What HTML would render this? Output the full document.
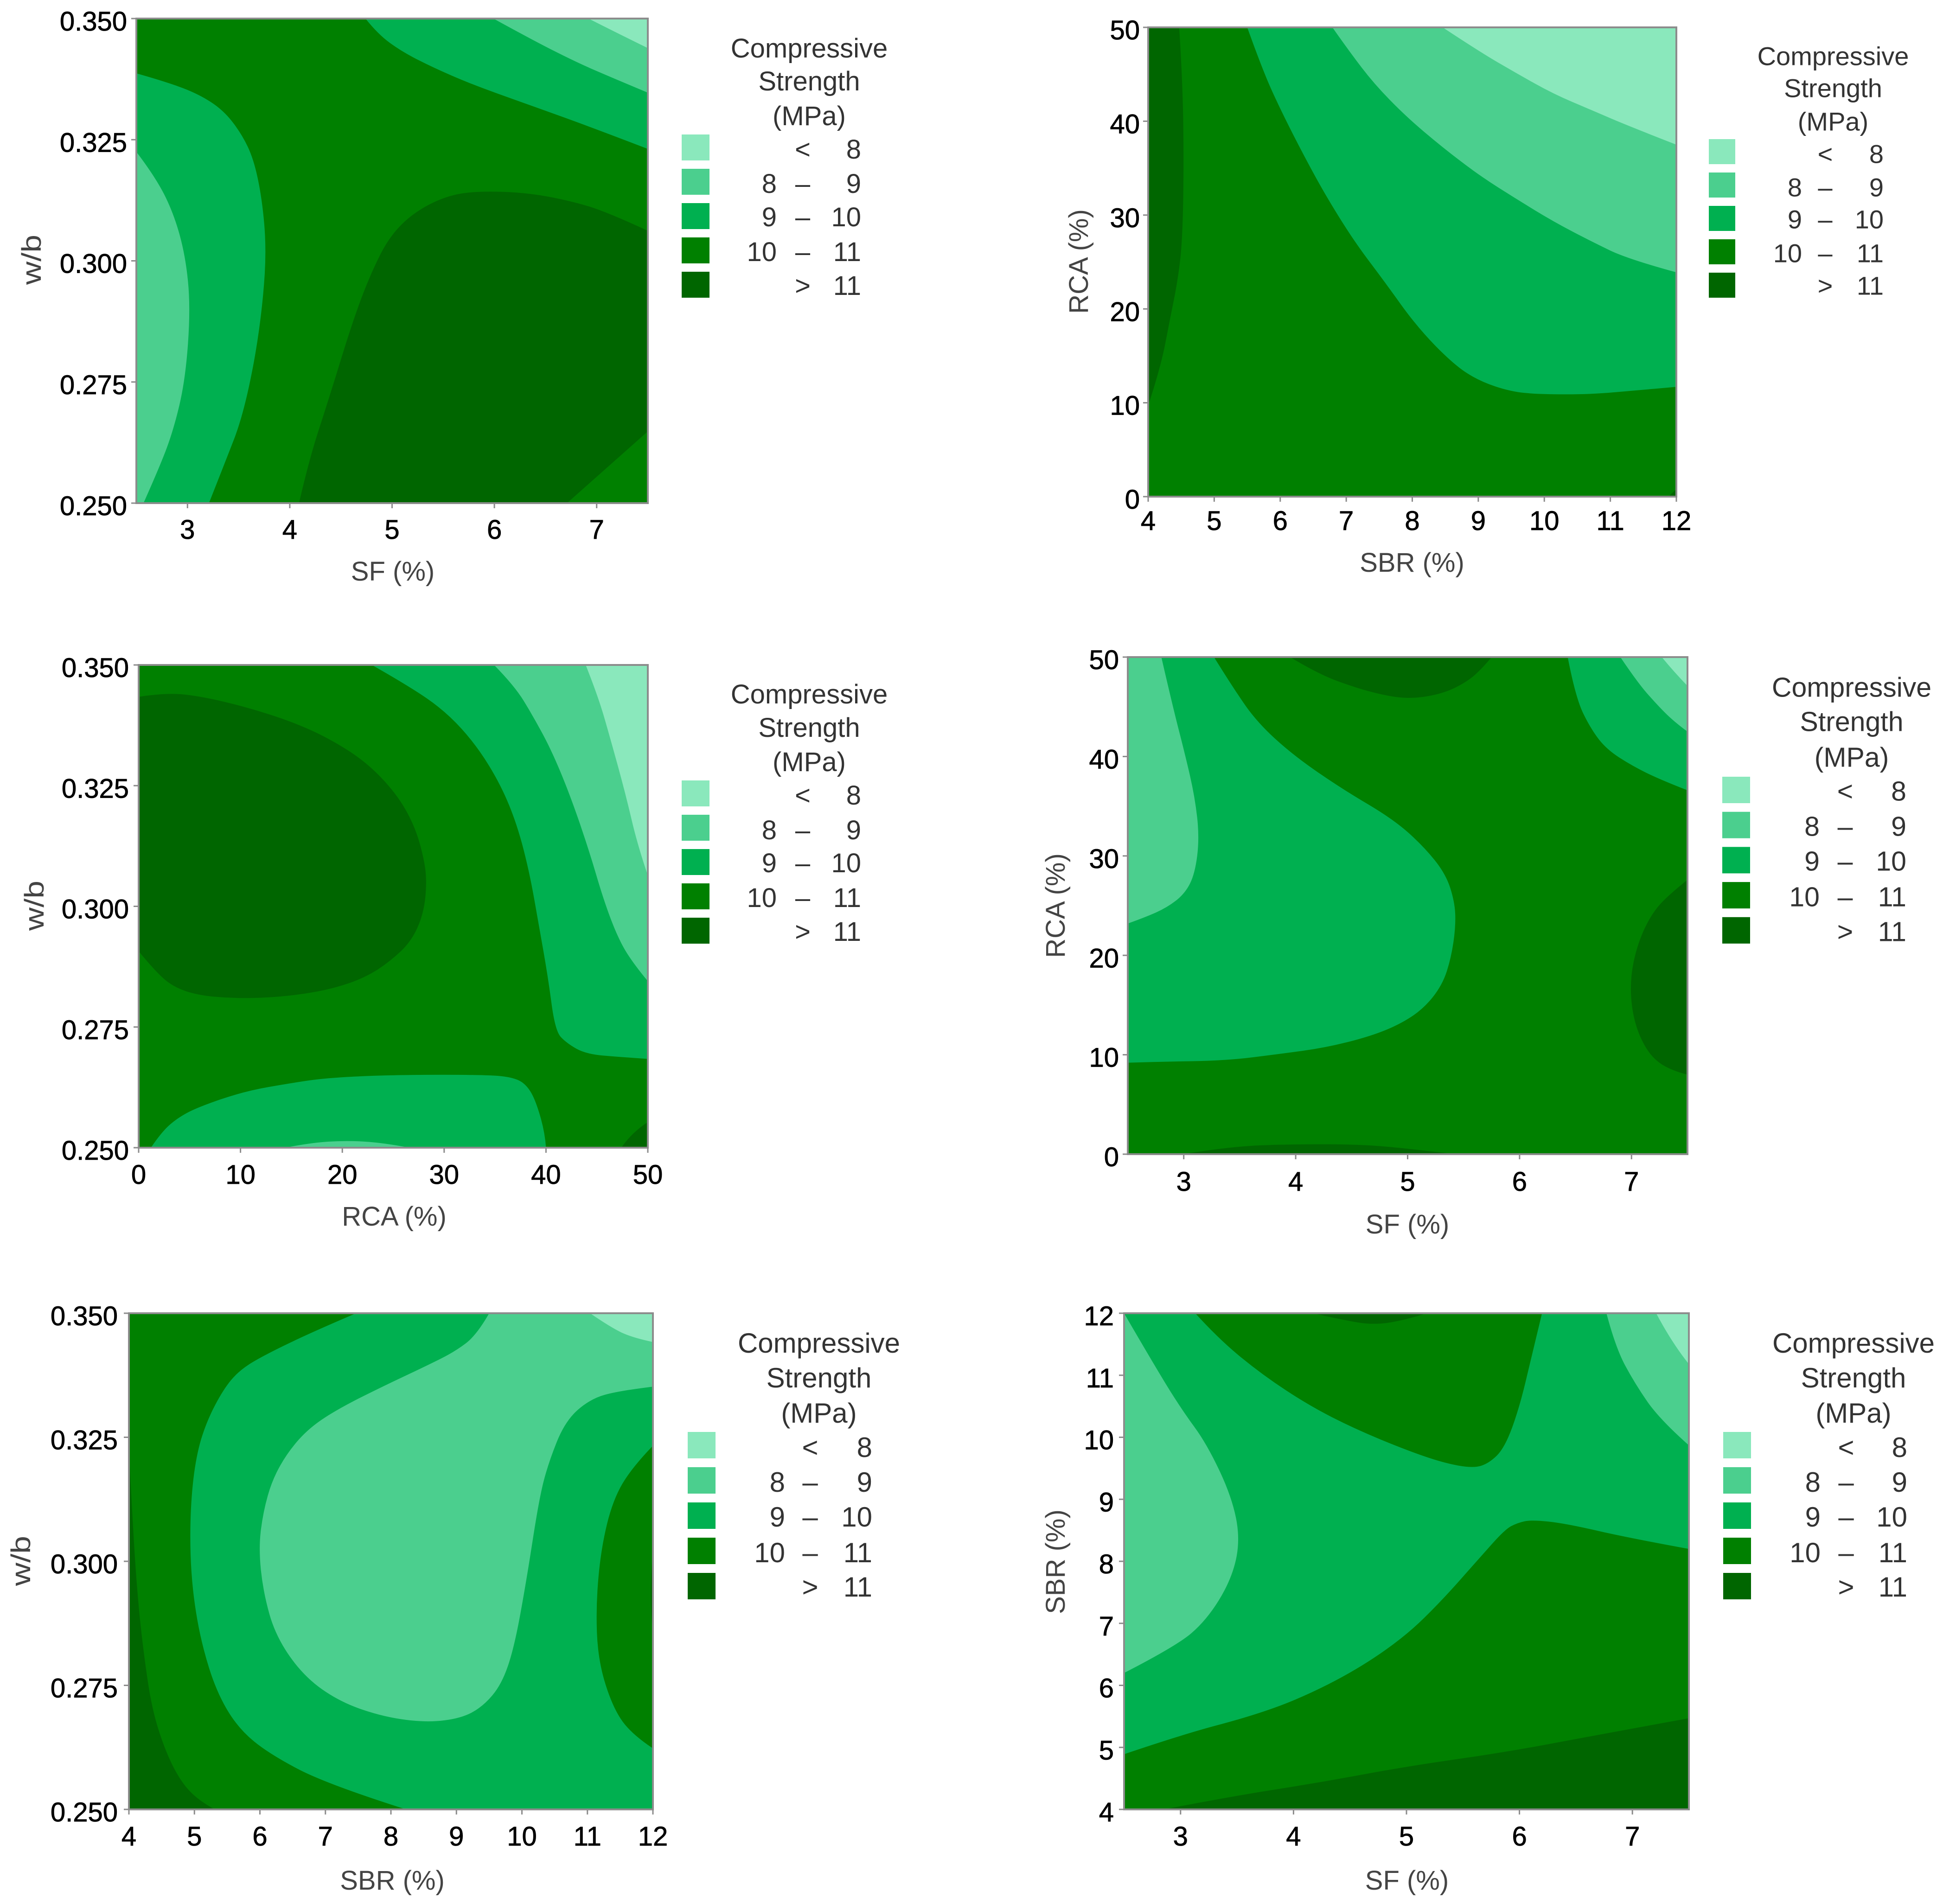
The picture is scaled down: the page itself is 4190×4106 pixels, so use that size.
<!DOCTYPE html>
<html lang="en">
<head>
<meta charset="utf-8">
<title>Compressive strength contour plots</title>
<style>
html,body{margin:0;padding:0;background:#fff;}
svg{display:block;}
text{font-family:"Liberation Sans",sans-serif;}
</style>
</head>
<body>
<svg id="figure" xmlns="http://www.w3.org/2000/svg" width="4190" height="4106" viewBox="0 0 4190 4106">
<rect width="4190" height="4106" fill="#ffffff"/>
</svg>
<script>
// Shared legend data
const bandColors = ['#8ae8bc', '#4bcf8e', '#00b050', '#008000', '#006600'];
const legendLow = ['', '8', '9', '10', ''];
const legendSep = ['<', '–', '–', '–', '>'];
const legendHigh = ['8', '9', '10', '11', '11'];
const legendTitle = ['Compressive', 'Strength', '(MPa)'];

// Axis ticks
const sfTicks = [3, 4, 5, 6, 7];
const sbrTicks = [4, 5, 6, 7, 8, 9, 10, 11, 12];
const rcaTicks = [0, 10, 20, 30, 40, 50];
const wbTicks = [0.25, 0.275, 0.3, 0.325, 0.35];
const wbTickLabels = ['0.250', '0.275', '0.300', '0.325', '0.350'];

// Chart 1: SF vs w/b contour boundaries, in data units [SF, w/b]
const c1Over11 = [[4.09,.25],[4.19,.2591],[4.38,.2714],[4.62,.2879],[4.80,.2978],[4.98,.3052],[5.22,.3101],[5.53,.3134],[5.83,.3144],[6.31,.3141],[6.74,.3124],[7.10,.3101],[7.5,.3062],[7.5,.2648],[6.71,.25]];
const c1LeftB9 = [[2.5,.3387],[2.80,.3369],[3.11,.3344],[3.35,.3311],[3.53,.3262],[3.65,.3208],[3.73,.3126],[3.77,.3027],[3.74,.2920],[3.66,.2797],[3.53,.2673],[3.38,.2591],[3.21,.25],[2.5,.25]];
const c1LeftB8 = [[2.5,.3225],[2.68,.3175],[2.86,.3101],[2.98,.3011],[3.03,.2904],[2.98,.2755],[2.86,.2648],[2.71,.2566],[2.57,.25],[2.5,.25]];
const c1TopB9 = [[4.74,.35],[4.86,.3468],[5.10,.3431],[5.41,.3398],[5.77,.3365],[6.31,.3324],[6.92,.3278],[7.5,.3231],[7.5,.35]];
const c1TopB8 = [[5.99,.35],[6.37,.3456],[6.80,.3410],[7.16,.3377],[7.5,.3347],[7.5,.35]];
const c1Under8 = [[6.92,.35],[7.22,.3468],[7.5,.3439],[7.5,.35]];

// Chart 2: SBR vs RCA
const c2Over11 = [[4,50],[4.47,50],[4.52,44.4],[4.54,35.9],[4.52,27.4],[4.45,23.1],[4.33,18.9],[4.19,13.8],[4,9.7]];
const c2Corner = [[11.88,0],[12,0.8],[12,0]];
const c2B9 = [[5.50,50],[5.74,45.3],[6.02,41.0],[6.39,35.9],[6.72,31.7],[7.14,27.0],[7.56,23.1],[8.08,18.0],[8.64,14.0],[9.02,12.3],[9.49,11.2],[9.91,10.9],[10.71,10.9],[11.36,11.3],[12,11.7],[12,50]];
const c2B8 = [[6.79,50],[7.05,47.4],[7.42,44.0],[7.89,40.6],[8.46,37.2],[9.02,34.2],[9.58,31.7],[10.14,29.3],[10.71,27.2],[11.27,25.3],[12,23.9],[12,50]];
const c2Under8 = [[8.46,50],[9.02,47.4],[9.58,45.1],[10.14,42.9],[10.71,41.2],[11.27,39.5],[12,37.5],[12,50]];

// Chart 3: RCA vs w/b
const c3Over11 = [[0,.3434],[2.8,.3443],[6.4,.3434],[10.7,.3412],[15.0,.3383],[18.6,.3349],[22.3,.3300],[25.3,.3234],[27.1,.3167],[28.0,.3101],[28.3,.3052],[28.0,.2986],[26.8,.2928],[24.7,.2886],[22.3,.2853],[19.2,.2830],[15.6,.2816],[11.9,.2810],[8.9,.2810],[5.8,.2816],[3.4,.2833],[1.6,.2866],[0,.2907]];
const c3TopB9 = [[22.9,.35],[26.5,.3457],[30.2,.3403],[33.2,.3333],[35.6,.3250],[37.2,.3167],[38.4,.3068],[39.3,.2961],[40.2,.2853],[40.9,.2742],[42.0,.2717],[43.9,.2694],[47.2,.2688],[50,.2684],[50,.35]];
const c3TopB8 = [[34.9,.35],[36.9,.3457],[38.7,.3395],[40.5,.3325],[42.3,.3234],[44.2,.3118],[45.7,.3010],[47.2,.2928],[48.7,.2878],[50,.2845],[50,.35]];
const c3Under8 = [[43.9,.35],[45.1,.3436],[46.3,.3349],[47.8,.3234],[49.0,.3126],[50,.3064],[50,.35]];
const c3LowB9 = [[1.2,.25],[2.2,.2531],[3.7,.2560],[5.8,.2584],[10.4,.2617],[15.0,.2634],[18.6,.2645],[25.3,.2651],[34.4,.2651],[36.9,.2645],[38.1,.2630],[39.0,.2597],[39.9,.2531],[40,.25]];
const c3LowB8 = [[14.4,.25],[16.8,.2510],[20.4,.2515],[24.1,.2510],[26.6,.25]];
const c3Corner = [[47.4,.25],[48.4,.2531],[50,.2553],[50,.25]];

// Chart 4: SF vs RCA
const c4LeftB9 = [[2.5,50],[3.27,50],[3.43,47.1],[3.65,43.5],[3.98,40.1],[4.42,36.7],[4.87,33.7],[5.14,31.0],[5.34,28.2],[5.42,25.4],[5.43,23.0],[5.39,19.8],[5.31,17.0],[5.14,14.6],[4.92,13.0],[4.65,11.8],[4.26,10.7],[3.87,10.1],[3.37,9.4],[2.77,9.3],[2.5,9.2]];
const c4LeftB8 = [[2.5,50],[2.80,50],[2.90,45.1],[3.01,40.3],[3.10,35.9],[3.14,31.8],[3.10,28.2],[3.01,26.2],[2.85,24.8],[2.65,23.8],[2.5,23.2]];
const c4TopOver11 = [[3.95,50],[4.20,48.3],[4.54,46.9],[4.81,46.1],[5.03,45.8],[5.31,46.3],[5.53,47.5],[5.67,48.9],[5.75,50]];
const c4TopB9 = [[6.43,50],[6.50,45.9],[6.64,42.7],[6.78,40.7],[7.00,39.1],[7.25,37.7],[7.5,36.6],[7.5,50]];
const c4TopB8 = [[6.90,50],[7.05,47.5],[7.22,45.3],[7.38,43.5],[7.5,42.5],[7.5,50]];
const c4Under8 = [[7.27,50],[7.38,48.5],[7.5,47.1],[7.5,50]];
const c4RightOver11 = [[7.5,27.6],[7.30,25.8],[7.16,23.8],[7.05,21.0],[6.99,17.8],[7.00,14.6],[7.07,11.8],[7.19,9.6],[7.36,8.4],[7.5,8.0]];
const c4LowOver11 = [[2.99,0],[3.43,.8],[3.98,1.0],[4.54,1.0],[4.98,.6],[5.42,0]];

// Chart 5: SBR vs w/b
const c5Over11 = [[4,.3229],[4.05,.3092],[4.13,.2930],[4.23,.2809],[4.35,.2704],[4.54,.2623],[4.78,.2558],[5.06,.2518],[5.31,.25],[4,.25]];
const c5B9 = [[7.47,.35],[6.76,.3460],[6.00,.3411],[5.67,.3383],[5.44,.3346],[5.20,.3286],[5.04,.3221],[4.95,.3132],[4.93,.3027],[4.98,.2930],[5.11,.2833],[5.34,.2736],[5.67,.2663],[6.15,.2611],[7.04,.2550],[8.23,.25],[12,.25],[12,.35]];
const c5B8 = [[9.50,.35],[9.31,.3456],[8.98,.3423],[8.56,.3395],[7.90,.3354],[7.23,.3310],[6.76,.3270],[6.43,.3221],[6.19,.3165],[6.05,.3100],[5.98,.3027],[6.05,.2938],[6.24,.2849],[6.67,.2768],[7.23,.2716],[7.90,.2686],[8.56,.2675],[9.08,.2684],[9.41,.2708],[9.69,.2752],[9.88,.2825],[10.07,.2962],[10.26,.3124],[10.40,.3197],[10.66,.3283],[11.05,.3328],[11.50,.3344],[12,.3352],[12,.35]];
const c5Under8 = [[11.04,.35],[11.35,.3472],[11.68,.3451],[12,.3442],[12,.35]];
const c5RightB10 = [[12,.3233],[11.68,.3189],[11.39,.3124],[11.21,.3027],[11.13,.2914],[11.16,.2801],[11.39,.2704],[11.68,.2651],[12,.2623]];
const c5RightOver11 = [[12,.3019],[11.93,.2930],[12,.2857]];

// Chart 6: SF vs SBR
const c6LowB10 = [[2.5,4.89],[3.02,5.21],[3.62,5.50],[4.06,5.79],[4.55,6.24],[4.99,6.79],[5.32,7.38],[5.65,8.06],[5.87,8.51],[5.98,8.62],[6.11,8.67],[6.41,8.61],[6.96,8.38],[7.5,8.20],[7.5,4],[2.5,4]];
const c6LowOver11 = [[2.85,4],[3.45,4.21],[4.22,4.43],[4.99,4.69],[5.87,4.92],[6.63,5.18],[7.5,5.47],[7.5,4]];
const c6TopB10 = [[3.13,12],[3.34,11.58],[3.73,11.0],[4.14,10.51],[4.55,10.13],[4.99,9.80],[5.32,9.59],[5.59,9.50],[5.73,9.58],[5.87,9.83],[6.0,10.48],[6.11,11.32],[6.20,12]];
const c6TopOver11 = [[4.17,12],[4.44,11.89],[4.71,11.81],[4.99,11.89],[5.18,12]];
const c6LeftB8 = [[2.5,12],[2.80,11.06],[3.02,10.42],[3.23,9.90],[3.45,9.06],[3.53,8.35],[3.45,7.70],[3.23,7.05],[2.96,6.63],[2.5,6.20]];
const c6RightB8 = [[6.77,12],[6.85,11.45],[7.02,10.87],[7.24,10.29],[7.5,9.87],[7.5,12]];
const c6Under8 = [[7.21,12],[7.35,11.52],[7.5,11.18],[7.5,12]];

const charts = [
  { key: 'sf-wb', box: { l: 294, t: 40, r: 1397, b: 1085 }, xDomain: [2.5, 7.5], yDomain: [0.25, 0.35],
    xTicks: sfTicks, yTicks: wbTicks, yLabels: wbTickLabels, xTitle: 'SF (%)', yTitle: 'w/b',
    base: 3, layers: [[4, c1Over11], [2, c1LeftB9], [1, c1LeftB8], [2, c1TopB9], [1, c1TopB8], [0, c1Under8]],
    xLabelGap: 58, yLabelGap: 20, xTitlePos: [847, 1231], yTitlePos: [67, 560],
    legend: { swatchX: 1470, swatchY: 290, swatchW: 60, swatchH: 56, step: 74, fs: 58, titleX: 1745, titleY: [105, 176, 251], lowX: 1675, sepX: 1731, highX: 1857, rowY: [323, 397, 469, 544, 617] } },
  { key: 'sbr-rca', box: { l: 2476, t: 59, r: 3615, b: 1071 }, xDomain: [4, 12], yDomain: [0, 50],
    xTicks: sbrTicks, yTicks: rcaTicks, yLabels: rcaTicks.map(String), xTitle: 'SBR (%)', yTitle: 'RCA (%)',
    base: 3, layers: [[4, c2Over11], [4, c2Corner], [2, c2B9], [1, c2B8], [0, c2Under8]],
    xLabelGap: 53, yLabelGap: 18, xTitlePos: [3045, 1212], yTitlePos: [2325, 564],
    legend: { swatchX: 3685, swatchY: 300, swatchW: 57, swatchH: 54, step: 72, fs: 56, titleX: 3953, titleY: [122, 191, 263], lowX: 3886, sepX: 3936, highX: 4062, rowY: [333, 405, 474, 547, 617] } },
  { key: 'rca-wb', box: { l: 299, t: 1434, r: 1397, b: 2475 }, xDomain: [0, 50], yDomain: [0.25, 0.35],
    xTicks: rcaTicks, yTicks: wbTicks, yLabels: wbTickLabels, xTitle: 'RCA (%)', yTitle: 'w/b',
    base: 3, layers: [[4, c3Over11], [2, c3TopB9], [1, c3TopB8], [0, c3Under8], [2, c3LowB9], [1, c3LowB8], [4, c3Corner]],
    xLabelGap: 59, yLabelGap: 21, xTitlePos: [850, 2622], yTitlePos: [73, 1953],
    legend: { swatchX: 1470, swatchY: 1683, swatchW: 60, swatchH: 56, step: 74, fs: 58, titleX: 1745, titleY: [1498, 1570, 1644], lowX: 1675, sepX: 1731, highX: 1857, rowY: [1716, 1791, 1862, 1937, 2010] } },
  { key: 'sf-rca', box: { l: 2432, t: 1417, r: 3639, b: 2489 }, xDomain: [2.5, 7.5], yDomain: [0, 50],
    xTicks: sfTicks, yTicks: rcaTicks, yLabels: rcaTicks.map(String), xTitle: 'SF (%)', yTitle: 'RCA (%)',
    base: 3, layers: [[2, c4LeftB9], [1, c4LeftB8], [4, c4TopOver11], [2, c4TopB9], [1, c4TopB8], [0, c4Under8], [4, c4RightOver11], [4, c4LowOver11]],
    xLabelGap: 60, yLabelGap: 19, xTitlePos: [3035, 2639], yTitlePos: [2275, 1953],
    legend: { swatchX: 3714, swatchY: 1675, swatchW: 60, swatchH: 57, step: 75.7, fs: 59, titleX: 3993, titleY: [1483, 1557, 1634], lowX: 3924, sepX: 3979, highX: 4111, rowY: [1707, 1783, 1858, 1935, 2010] } },
  { key: 'sbr-wb', box: { l: 278, t: 2832, r: 1408, b: 3902 }, xDomain: [4, 12], yDomain: [0.25, 0.35],
    xTicks: sbrTicks, yTicks: wbTicks, yLabels: wbTickLabels, xTitle: 'SBR (%)', yTitle: 'w/b',
    base: 3, layers: [[4, c5Over11], [2, c5B9], [1, c5B8], [0, c5Under8], [3, c5RightB10], [4, c5RightOver11]],
    xLabelGap: 59, yLabelGap: 24, xTitlePos: [846, 4054], yTitlePos: [44, 3366],
    legend: { swatchX: 1483, swatchY: 3088, swatchW: 60, swatchH: 57, step: 76, fs: 60, titleX: 1766, titleY: [2897, 2972, 3048], lowX: 1693, sepX: 1747, highX: 1881, rowY: [3122, 3197, 3272, 3349, 3423] } },
  { key: 'sf-sbr', box: { l: 2424, t: 2832, r: 3642, b: 3902 }, xDomain: [2.5, 7.5], yDomain: [4, 12],
    xTicks: sfTicks, yTicks: sbrTicks, yLabels: sbrTicks.map(String), xTitle: 'SF (%)', yTitle: 'SBR (%)',
    base: 2, layers: [[3, c6LowB10], [4, c6LowOver11], [3, c6TopB10], [4, c6TopOver11], [1, c6LeftB8], [1, c6RightB8], [0, c6Under8]],
    xLabelGap: 59, yLabelGap: 22, xTitlePos: [3034, 4054], yTitlePos: [2275, 3368],
    legend: { swatchX: 3716, swatchY: 3088, swatchW: 60, swatchH: 57, step: 76, fs: 60, titleX: 3997, titleY: [2897, 2972, 3048], lowX: 3926, sepX: 3981, highX: 4113, rowY: [3122, 3197, 3272, 3349, 3423] } }
];

const SVG_NS = 'http://www.w3.org/2000/svg';
const figure = document.getElementById('figure');
const TICK_FS = 58;
const TITLE_FS = 58;
const BASE_SHIFT = 0.33;

function svgEl(tag, parent, attrs) {
  const el = document.createElementNS(SVG_NS, tag);
  for (const k in attrs) el.setAttribute(k, attrs[k]);
  parent.appendChild(el);
  return el;
}
function linearScale(domain, r0, r1) {
  return function (v) { return r0 + (v - domain[0]) / (domain[1] - domain[0]) * (r1 - r0); };
}
function regionPath(points, sx, sy, xDomain, yDomain) {
  const onEdge = points.map(function (p) {
    return p[0] === xDomain[0] || p[0] === xDomain[1] || p[1] === yDomain[0] || p[1] === yDomain[1];
  });
  const pts = points.map(function (p) { return [sx(p[0]), sy(p[1])]; });
  const n = pts.length;
  let d = 'M' + pts[0][0].toFixed(1) + ' ' + pts[0][1].toFixed(1);
  for (let i = 1; i < n; i++) {
    if (onEdge[i]) {
      d += 'L' + pts[i][0].toFixed(1) + ' ' + pts[i][1].toFixed(1);
    } else {
      const j = (i + 1) % n;
      const nx = onEdge[j] ? pts[j] : [(pts[i][0] + pts[j][0]) / 2, (pts[i][1] + pts[j][1]) / 2];
      d += 'Q' + pts[i][0].toFixed(1) + ' ' + pts[i][1].toFixed(1) + ' ' + nx[0].toFixed(1) + ' ' + nx[1].toFixed(1);
    }
  }
  return d + 'Z';
}

charts.forEach(function (c) {
  const box = c.box;
  const sx = linearScale(c.xDomain, box.l, box.r);
  const sy = linearScale(c.yDomain, box.b, box.t);

  const g = svgEl('g', figure, {});
  
  

  const clip = svgEl('clipPath', g, { id: 'clip-' + c.key });
  svgEl('rect', clip, { x: box.l, y: box.t, width: box.r - box.l, height: box.b - box.t });

  const plot = svgEl('g', g, { 'clip-path': 'url(#clip-' + c.key + ')' });
  
  

  const baseRect = svgEl('rect', plot, { x: box.l, y: box.t, width: box.r - box.l, height: box.b - box.t, fill: bandColors[c.base] });
  
  

  c.layers.forEach(function (layer) {
    const region = svgEl('path', plot, { d: regionPath(layer[1], sx, sy, c.xDomain, c.yDomain), fill: bandColors[layer[0]] });
    
    
  });

  const frame = svgEl('rect', g, { x: box.l, y: box.t, width: box.r - box.l, height: box.b - box.t, fill: 'none', stroke: '#8c8c8c', 'stroke-width': 4 });
  
  

  c.xTicks.forEach(function (v) {
    const tick = svgEl('line', g, { x1: sx(v), x2: sx(v), y1: box.b, y2: box.b + 11, stroke: '#8c8c8c', 'stroke-width': 3 });
    
    
    const label = svgEl('text', g, { x: sx(v), y: box.b + c.xLabelGap + TICK_FS * BASE_SHIFT, 'font-size': TICK_FS, 'text-anchor': 'middle', fill: '#000', stroke: '#000', 'stroke-width': 0.8 });
    
    
    label.textContent = String(v);
  });

  c.yTicks.forEach(function (v, i) {
    const tick = svgEl('line', g, { x1: box.l - 11, x2: box.l, y1: sy(v), y2: sy(v), stroke: '#8c8c8c', 'stroke-width': 3 });
    
    
    const label = svgEl('text', g, { x: box.l - c.yLabelGap, y: sy(v) + 7 + TICK_FS * BASE_SHIFT, 'font-size': TICK_FS, 'text-anchor': 'end', fill: '#000', stroke: '#000', 'stroke-width': 0.8 });
    
    
    label.textContent = c.yLabels[i];
  });

  const xTitle = svgEl('text', g, { x: c.xTitlePos[0], y: c.xTitlePos[1] + TITLE_FS * 0.36, 'font-size': TITLE_FS, 'text-anchor': 'middle', fill: '#444' });
  
  
  xTitle.textContent = c.xTitle;

  const yx = c.yTitlePos[0], yy = c.yTitlePos[1];
  const yTitle = svgEl('text', g, { x: yx + TITLE_FS * 0.36, y: yy, 'font-size': TITLE_FS, 'text-anchor': 'middle', fill: '#444', transform: 'rotate(-90 ' + (yx + TITLE_FS * 0.36) + ' ' + yy + ')' });
  if (c.yTitle === 'w/b') {
    yTitle.setAttribute('textLength', 108);
    yTitle.setAttribute('lengthAdjust', 'spacingAndGlyphs');
  }
  
  
  yTitle.textContent = c.yTitle;

  const lg = c.legend;
  const legend = svgEl('g', g, {});
  
  

  legendTitle.forEach(function (line, i) {
    const t = svgEl('text', legend, { x: lg.titleX, y: lg.titleY[i] + lg.fs * BASE_SHIFT, 'font-size': lg.fs, 'text-anchor': 'middle', fill: '#333' });
    
    
    t.textContent = line;
  });

  bandColors.forEach(function (color, i) {
    const sw = svgEl('rect', legend, { x: lg.swatchX, y: lg.swatchY + i * lg.step, width: lg.swatchW, height: lg.swatchH, fill: color });
    
    
    const by = lg.rowY[i] + lg.fs * BASE_SHIFT;
    if (legendLow[i]) {
      const low = svgEl('text', legend, { x: lg.lowX, y: by, 'font-size': lg.fs, 'text-anchor': 'end', fill: '#333' });
      
      
      low.textContent = legendLow[i];
    }
    const sep = svgEl('text', legend, { x: lg.sepX, y: by, 'font-size': lg.fs, 'text-anchor': 'middle', fill: '#333' });
    
    
    sep.textContent = legendSep[i];
    const high = svgEl('text', legend, { x: lg.highX, y: by, 'font-size': lg.fs, 'text-anchor': 'end', fill: '#333' });
    
    
    high.textContent = legendHigh[i];
  });
});
</script>
</body>
</html>
